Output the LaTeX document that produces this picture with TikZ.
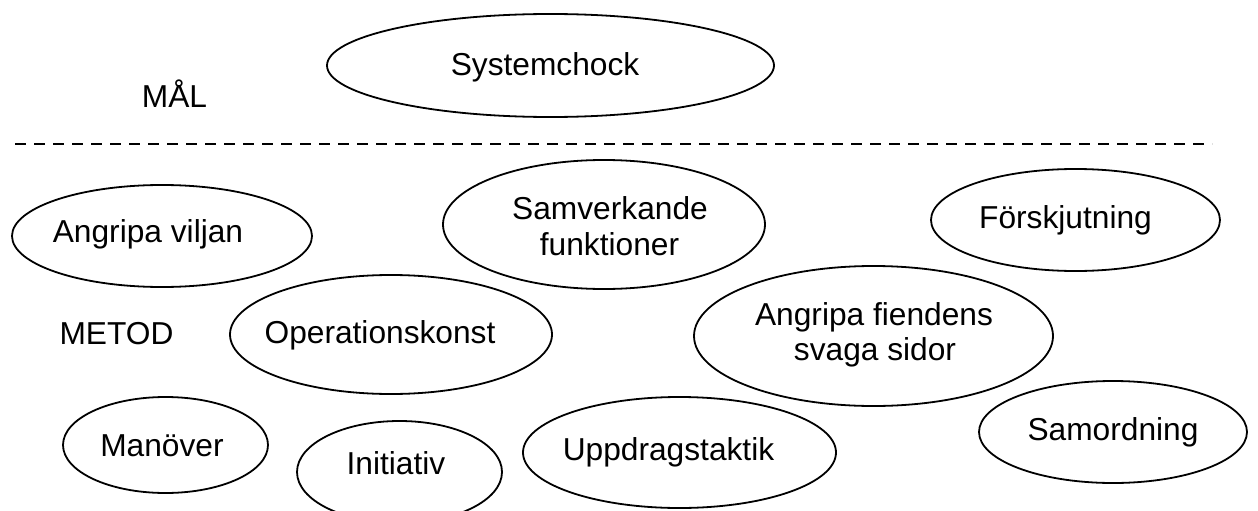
\documentclass[tikz,border=0pt]{standalone}
\usepackage{fontspec}
\setmainfont{Liberation Sans}
\usetikzlibrary{shapes.geometric}
\tikzset{
  oval/.style={draw=black, line width=1.8pt, ellipse, inner sep=0pt, outer sep=0pt},
  lbl/.style={inner sep=0pt, anchor=base, font=\fontsize{31.7}{36}\selectfont},
  sep/.style={line width=2pt, dash pattern=on 11pt off 8pt}
}
\newcommand{\ov}[5]{\node[oval, minimum width=#3pt, minimum height=#4pt] (#5) at (#1,#2) {};}
\begin{document}
\begin{tikzpicture}[x=1pt,y=-1pt]
\useasboundingbox (0,0) rectangle (1258,511);
% ellipses (cx, cy, width, height)
\ov{550.5}{65.5}{447}{103}{e1}
\ov{162}{236}{300}{102}{e2}
\ov{604}{224.5}{322}{129}{e3}
\ov{1075.5}{220}{289}{102}{e4}
\ov{391}{334.5}{322}{119}{e5}
\ov{873.5}{336}{359}{140}{e6}
\ov{165.5}{445}{205}{96}{e7}
\ov{399.5}{472}{205}{102}{e8}
\ov{679.5}{452.5}{313}{111}{e9}
\ov{1113}{432}{268}{102}{e10}
% texts
\node[lbl] (t1) at (545,75) {Systemchock};
\node[lbl] (mal) at (174.5,107) {MÅL};
\node[lbl] (t2) at (148,242) {Angripa viljan};
\node[lbl] (t3a) at (610,219) {Samverkande};
\node[lbl] (t3b) at (609.5,255) {funktioner};
\node[lbl] (t4) at (1065.5,228) {Förskjutning};
\node[lbl] (metod) at (116.5,344) {METOD};
\node[lbl] (t5) at (380,343) {Operationskonst};
\node[lbl] (t6a) at (874,325) {Angripa fiendens};
\node[lbl] (t6b) at (875,360) {svaga sidor};
\node[lbl] (t7) at (162,456) {Manöver};
\node[lbl] (t8) at (396,474) {Initiativ};
\node[lbl] (t9) at (668.5,460) {Uppdragstaktik};
\node[lbl] (t10) at (1113,440) {Samordning};
% dashed separator
\coordinate (sl) at (15,144);
\coordinate (sr) at (1212,144);
\draw[sep] (sl) -- (sr);
\end{tikzpicture}
\end{document}
